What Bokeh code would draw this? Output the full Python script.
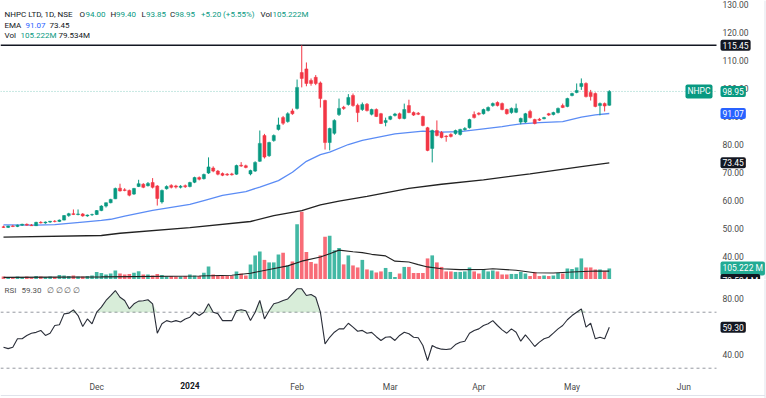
from bokeh.plotting import figure
from bokeh.models import Range1d, FixedTicker, Label, NumeralTickFormatter, ColumnDataSource, LinearAxis
from bokeh.layouts import column
from bokeh.embed import file_html
from bokeh.resources import INLINE

# ---------------- data ----------------
opens = [50.6,50.4,50.9,50.7,51.2,51.5,51.2,51.0,52.2,52.0,52.3,52.6,52.5,53.0,54.6,55.3,55.0,55.2,54.5,54.9,
         55.0,56.4,58.0,59.2,60.6,64.4,63.8,63.6,62.3,65.0,65.8,65.3,66.4,65.2,59.5,64.2,65.4,65.2,64.7,65.3,
         65.0,66.5,68.2,67.8,69.8,71.6,70.5,69.6,69.4,69.5,69.4,72.6,72.4,69.5,70.5,74.0,83.2,76.0,81.4,85.4,
         89.6,88.2,92.0,92.9,105.7,107.0,102.9,104.0,102.0,95.7,80.7,84.0,90.7,93.3,94.3,97.5,94.0,92.5,94.4,90.8,
         92.5,91.0,87.9,89.0,90.4,91.0,89.3,93.9,91.4,91.2,90.0,86.0,78.6,85.0,84.3,83.0,83.6,83.9,83.6,85.3,
         86.0,90.7,91.2,91.0,92.1,93.9,95.0,94.6,92.5,91.4,91.5,88.0,88.0,91.8,88.9,89.0,89.2,91.0,90.7,91.4,
         93.9,93.6,97.5,98.6,100.7,101.8,98.6,98.2,93.9,94.6,94.0]
highs = [51.0,51.0,51.3,51.4,51.7,51.8,51.6,52.4,52.6,52.5,52.7,53.0,53.2,54.8,55.6,56.8,56.8,55.5,55.0,55.3,
         56.6,58.3,59.3,60.6,64.6,66.0,64.4,63.9,64.5,67.4,66.2,66.6,68.0,65.5,63.9,65.4,65.8,65.6,65.5,65.7,
         66.7,68.5,68.6,69.6,75.4,72.2,70.9,70.0,69.8,69.9,72.8,73.7,72.8,71.0,74.0,85.0,83.8,81.0,83.6,89.6,
         90.2,91.5,92.8,103.2,115.45,109.3,103.6,104.8,102.5,96.0,86.0,89.0,96.4,93.8,98.0,98.2,94.6,95.0,94.8,92.8,
         92.9,91.3,89.6,90.3,91.3,91.4,94.6,96.0,91.8,91.6,90.3,86.3,85.3,88.6,84.8,83.3,84.0,85.3,85.6,86.2,
         89.2,91.8,91.5,92.8,93.6,95.0,95.4,95.0,92.8,93.2,94.6,89.6,91.3,92.4,89.2,89.5,89.9,91.3,91.7,93.2,
         94.6,96.7,98.5,101.8,103.6,102.2,99.5,98.6,95.0,95.0,99.4]
lows = [50.2,50.2,50.5,50.5,50.9,51.0,50.9,50.9,51.8,51.7,52.0,52.2,52.3,52.9,54.2,54.8,54.7,54.2,54.2,54.5,
        54.8,56.2,57.5,59.0,60.5,63.2,63.3,61.5,62.0,64.8,64.4,65.0,64.3,58.2,58.9,63.9,64.3,64.3,64.3,64.5,
        64.7,66.2,67.2,67.5,69.5,70.1,69.0,68.7,68.8,68.9,69.2,72.0,71.5,69.0,70.2,73.8,75.0,75.6,81.0,85.0,
        87.0,87.8,90.6,92.5,100.4,100.8,101.0,101.2,93.2,78.2,77.9,83.5,90.2,92.4,93.9,93.5,88.0,92.0,91.8,90.4,
        89.8,87.3,86.5,88.7,90.0,89.0,89.0,91.2,90.2,90.5,86.5,77.6,73.6,82.9,82.2,81.0,82.5,83.5,83.2,85.0,
        85.7,89.3,90.4,90.7,91.8,93.5,93.6,92.2,90.7,91.0,91.2,87.2,87.7,89.3,87.2,88.4,89.0,90.2,90.4,91.1,
        93.0,93.3,97.2,98.3,99.5,96.8,95.7,93.3,90.4,91.8,93.85]
closes = [50.4,50.9,50.7,51.2,51.5,51.2,51.0,52.2,52.0,52.3,52.6,52.5,53.0,54.6,55.3,55.0,55.2,54.5,54.8,55.0,
          56.4,58.0,59.2,60.4,64.3,63.4,63.6,61.9,64.3,66.0,64.7,66.1,64.7,60.7,63.6,65.0,64.7,64.8,65.1,64.9,
          66.4,68.2,67.6,69.3,72.0,70.5,69.4,69.0,69.1,69.2,72.5,72.3,71.8,70.7,73.6,80.4,75.5,80.7,83.2,87.0,
          87.6,91.0,91.0,100.4,103.6,101.8,101.8,101.8,96.4,80.7,85.7,88.6,92.9,92.9,96.8,93.9,91.4,94.3,92.1,92.5,
          90.0,87.5,88.6,90.0,90.9,89.3,92.5,91.4,90.5,90.8,86.8,77.9,85.0,83.2,82.5,82.8,82.9,85.0,85.4,85.7,
          88.9,89.6,90.8,92.5,93.2,94.6,93.9,92.5,91.0,92.9,92.9,89.3,91.0,89.6,87.5,88.7,89.6,90.5,91.4,92.9,
          93.2,96.4,98.2,99.3,101.8,97.1,97.1,93.6,94.6,93.75,98.95]
volumes_m = [29,24,19,29,24,29,19,33,29,24,29,24,43,38,33,38,29,29,33,38,
             72,62,48,57,86,57,48,53,64,79,48,48,38,53,43,29,33,29,29,33,
             48,38,33,64,124,48,38,33,33,33,77,57,38,144,230,268,187,163,163,239,
             254,134,172,526,646,263,167,151,230,407,416,278,301,144,230,134,115,187,96,86,
             67,77,110,72,24,57,120,120,62,62,62,201,230,163,120,77,77,72,72,77,
             115,77,57,100,77,86,77,48,48,53,53,72,57,33,72,33,38,33,38,62,
             57,105,100,115,201,115,115,96,96,77,105.222]
rsi = [45,44,45,51,51,53.4,55,55.6,57,53.4,55,60.5,61,68.8,69.3,71.7,67.6,59.8,65.2,61.7,
       70,73.6,78.4,81.9,85.5,80.7,78.4,72.4,76,77.9,78.2,78.9,76,55,61.7,64,63,64,63,65.2,
       66.4,70,67.6,70,76,70,69,64,64,64,71,71.7,71,64,70,78.4,65.2,71,76,77,
       78.4,79.5,83.1,86.7,86.7,81.9,82.6,80.7,70,47.4,52.1,55.7,58.1,58.1,62.1,59.3,56.4,57,55,55.6,
       52.5,49.8,52.1,52.5,49.8,53.4,55.7,54.6,52.1,51.7,46.2,35.5,46.2,44.5,43.6,43.4,43.8,46.9,48.6,49.3,
       55,57,58.1,60.5,61.7,64,60.5,57.4,55,58.1,55.7,49.3,53.8,49.8,45.5,48.6,51,52.1,55,58.1,
       60.5,64.6,67.6,70,72.4,59.3,62.1,51,52.1,51,59.3]
ema50_idx = [0,7,11,17,21,23,26,32,40,43,47,52,55,59,62,65,68,70,74,77,84,90,94,98,103,107,111,115,120,124,127,130]
ema50_val = [51.3,51.2,51.4,52.3,52.9,53.3,54.4,56.5,58.6,60.0,61.8,63.2,64.8,67.1,70.1,74.0,76.4,77.3,80.0,81.5,
             83.8,84.8,84.4,84.6,85.6,86.4,87.4,87.8,88.2,89.8,90.6,91.07]
ema200_idx = [0,21,25,40,53,58,64,68,72,78,87,94,103,113,124,130]
ema200_val = [46.9,47.5,48.3,50.3,52.5,54.6,56.4,58.4,59.8,61.5,64.3,65.8,67.4,69.5,72.1,73.45]
volma_idx = [0,21,42,49,53,57,61,64,68,70,72,75,77,79,82,84,87,89,91,94,98,103,105,110,114,118,122,127,130]
volma_val = [20,25,33,40,60,95,130,175,215,245,280,265,256,240,225,175,167,142,120,103,94,96,103,88,65,62,72,81,79.534]
month_ticks = [-1, 20, 40, 63, 83, 102, 122, 146]
month_labels = ["Nov", "Dec", "2024", "Feb", "Mar", "Apr", "May", "Jun"]
year_tick = 40
price_ticks = [40, 50, 60, 70, 80, 90, 100, 110, 120, 130]
rsi_ticks = [40, 80]
rsi_bands = [70, 30]
hline_level = 115.45

# ---------------- geometry / styling ----------------
UP, DN = "#089981", "#f23645"
VUP, VDN = "#22ab94", "#f7525f"
BORDER = "#e0e3eb"
FONT = "Roboto"
FS = "8.5px"
HFS = "8px"
W = 766
H1, H2 = 279, 119
PANE_W = 716          # right edge of the chart panes (price scale to its right)
PXB = 4.66            # pixels per bar
X0 = -3 / PXB
X1 = X0 + W / PXB
P_TOP = 131.43
P_BOT = P_TOP - H1 / 2.8
R_TOP = 93.36
R_BOT = R_TOP - H2 / 1.4
R_AXIS = R_TOP - 93 / 1.4      # level where the time axis sits

def px(xp):            # page px -> bar-index units (annotation placement only)
    return (xp - 3) / PXB

def py1(yp):           # page px -> price units on main pane
    return P_TOP - yp / 2.8

def py2(yp):           # page px -> rsi units on rsi pane
    return R_TOP - (yp - H1) / 1.4

X_EDGE = px(PANE_W)
X_RIGHT = px(W - 1.5)

idx = list(range(len(closes)))
col = [UP if c >= o else DN for o, c in zip(opens, closes)]
vcol = [VUP if c >= o else VDN for o, c in zip(opens, closes)]
src = ColumnDataSource(dict(x=idx, o=opens, h=highs, l=lows, c=closes, v=volumes_m, col=col, vcol=vcol,
                            top=[max(o, c) for o, c in zip(opens, closes)],
                            bot=[min(o, c) for o, c in zip(opens, closes)]))

xr = Range1d(X0, X1)


def style_axis(a, standoff):
    a.axis_line_color = None
    a.major_tick_line_color = None
    a.minor_tick_line_color = None
    a.major_tick_out = 0
    a.major_tick_in = 0
    a.major_label_standoff = standoff
    a.major_label_text_font = FONT
    a.major_label_text_font_size = FS
    a.major_label_text_color = "#4a4a4a"


def lab(p, text, x, y, color="#131722", size=FS, bg=None, align="left", baseline="middle",
        y_range_name="default", bold=False):
    kw = dict(x=x, y=y, text=text, text_color=color, text_font=FONT, text_font_size=size,
              text_align=align, text_baseline=baseline, y_range_name=y_range_name)
    if bold:
        kw["text_font_style"] = "bold"
    if bg:
        kw.update(background_fill_color=bg, background_fill_alpha=1.0, padding=2, border_radius=2)
    p.add_layout(Label(**kw))


# ---------------- main pane ----------------
p1 = figure(width=W, height=H1, x_range=xr, y_range=Range1d(P_BOT, P_TOP),
            output_backend="svg", toolbar_location=None, x_axis_location=None, y_axis_location=None,
            min_border=0)
p1.extra_y_ranges = {"vol": Range1d(0, (H1 - 1) * 9.57)}
p1.outline_line_color = None
p1.grid.visible = False
p1.background_fill_color = "white"
p1.border_fill_color = "white"

ax = LinearAxis(ticker=FixedTicker(ticks=price_ticks), formatter=NumeralTickFormatter(format="0.00"),
                fixed_location=X_EDGE)
style_axis(ax, 6)
p1.add_layout(ax, "right")

# right border of the widget
p1.segment(x0=[X_RIGHT], x1=[X_RIGHT], y0=[P_BOT], y1=[P_TOP], line_color=BORDER, line_width=1)

# volume
p1.vbar(x="x", top="v", bottom=0, width=0.78, y_range_name="vol", source=src,
        fill_color="vcol", line_color=None, fill_alpha=0.85)
p1.line(volma_idx, volma_val, y_range_name="vol", line_color="#222222", line_width=1.1)

# EMAs
p1.line(ema200_idx, ema200_val, line_color="#222222", line_width=1.3)
p1.line(ema50_idx, ema50_val, line_color="#5b8cf5", line_width=1.3)

# horizontal drawing and last-price line
p1.segment(x0=[X0], x1=[X_EDGE], y0=[hline_level], y1=[hline_level], line_color="#131722", line_width=1.6)
p1.segment(x0=[X0], x1=[X_EDGE], y0=[closes[-1]], y1=[closes[-1]], line_color=UP, line_alpha=0.45,
           line_width=1, line_dash="1 2")

# candles
p1.segment(x0="x", y0="l", x1="x", y1="h", source=src, line_color="col", line_width=1)
p1.vbar(x="x", top="top", bottom="bot", width=0.66, source=src, fill_color="col", line_color="col",
        line_width=0.5)

# header legend
DK = "#131722"
y_a, y_b, y_c = py1(14), py1(25), py1(34.5)
for t, xp, c in [("NHPC LTD, 1D, NSE", 4, DK), ("O", 79, DK), ("94.00", 85, UP), ("H", 110, DK),
                 ("99.40", 115.5, UP), ("L", 141, DK), ("93.85", 145.5, UP), ("C", 169.5, DK),
                 ("98.95", 174.5, UP), ("+5.20 (+5.55%)", 200.5, UP), ("Vol", 260, DK),
                 ("105.222M", 272, UP)]:
    lab(p1, t, px(xp), y_a, color=c, size=HFS)
for t, xp, c in [("EMA", 4, DK), ("91.07", 25, "#2962ff"), ("73.45", 49, DK)]:
    lab(p1, t, px(xp), y_b, color=c, size=HFS)
for t, xp, c in [("Vol", 4, DK), ("105.222M", 20, UP), ("79.534M", 58, DK)]:
    lab(p1, t, px(xp), y_c, color=c, size=HFS)

# price-scale badges
bx = px(PANE_W + 4)
lab(p1, "115.45", bx, hline_level, color="white", bg="#131722")
lab(p1, "NHPC", px(PANE_W - 4), closes[-1], color="white", bg=UP, align="right")
lab(p1, "98.95", bx, closes[-1], color="white", bg=UP)
lab(p1, "91.07", bx, ema50_val[-1], color="white", bg="#2962ff")
lab(p1, "73.45", bx, ema200_val[-1], color="white", bg="#131722")
lab(p1, "105.222 M", bx, volumes_m[-1], color="white", bg=VUP, y_range_name="vol")
lab(p1, "79.534 M", bx, py1(273.5), color="white", bg="#131722", baseline="top")

# ---------------- RSI pane ----------------
p2 = figure(width=W, height=H2, x_range=xr, y_range=Range1d(R_BOT, R_TOP),
            output_backend="svg", toolbar_location=None, x_axis_location=None, y_axis_location=None,
            min_border=0)
p2.outline_line_color = None
p2.grid.visible = False
p2.background_fill_color = "white"
p2.border_fill_color = "white"

ra = LinearAxis(ticker=FixedTicker(ticks=rsi_ticks), formatter=NumeralTickFormatter(format="0.00"),
                fixed_location=X_EDGE)
style_axis(ra, 6)
p2.add_layout(ra, "right")

xa = LinearAxis(ticker=FixedTicker(ticks=[t for t in month_ticks if t != year_tick]),
                major_label_overrides={t: l for t, l in zip(month_ticks, month_labels) if t != year_tick},
                fixed_location=R_AXIS)
style_axis(xa, 9)
p2.add_layout(xa, "below")
ya = LinearAxis(ticker=FixedTicker(ticks=[year_tick]),
                major_label_overrides={year_tick: month_labels[month_ticks.index(year_tick)]},
                fixed_location=R_AXIS)
style_axis(ya, 9)
ya.major_label_text_font_style = "bold"
ya.major_label_text_color = "#131722"
p2.add_layout(ya, "below")

# widget borders (right edge and bottom edge)
p2.segment(x0=[X_RIGHT], x1=[X_RIGHT], y0=[R_BOT], y1=[R_TOP], line_color=BORDER, line_width=1)
p2.segment(x0=[X0], x1=[X_RIGHT], y0=[py2(395)], y1=[py2(395)], line_color=BORDER, line_width=1)

for b in rsi_bands:
    p2.segment(x0=[X0], x1=[X_EDGE], y0=[b], y1=[b], line_color="#9598a1", line_width=1, line_dash="3 3")
p2.varea(x=idx, y1=[70] * len(rsi), y2=[max(r, 70) for r in rsi], fill_color="#4caf50", fill_alpha=0.22)
p2.line(idx, rsi, line_color="#2a2e39", line_width=1.1)

yr = py2(290)
for t, xp in [("RSI", 4), ("59.30", 21), ("\u2205", 46), ("\u2205", 55), ("\u2205", 63), ("\u2205", 72)]:
    lab(p2, t, px(xp), yr, color="#555555", size=HFS)
lab(p2, "59.30", bx, rsi[-1], color="white", bg="#131722")

layout = column(p1, p2, spacing=0)
html = file_html(layout, INLINE)
html = html.replace("<head>", "<head><style>body{margin:0;}</style>", 1)
open("out.html", "w").write(html)
